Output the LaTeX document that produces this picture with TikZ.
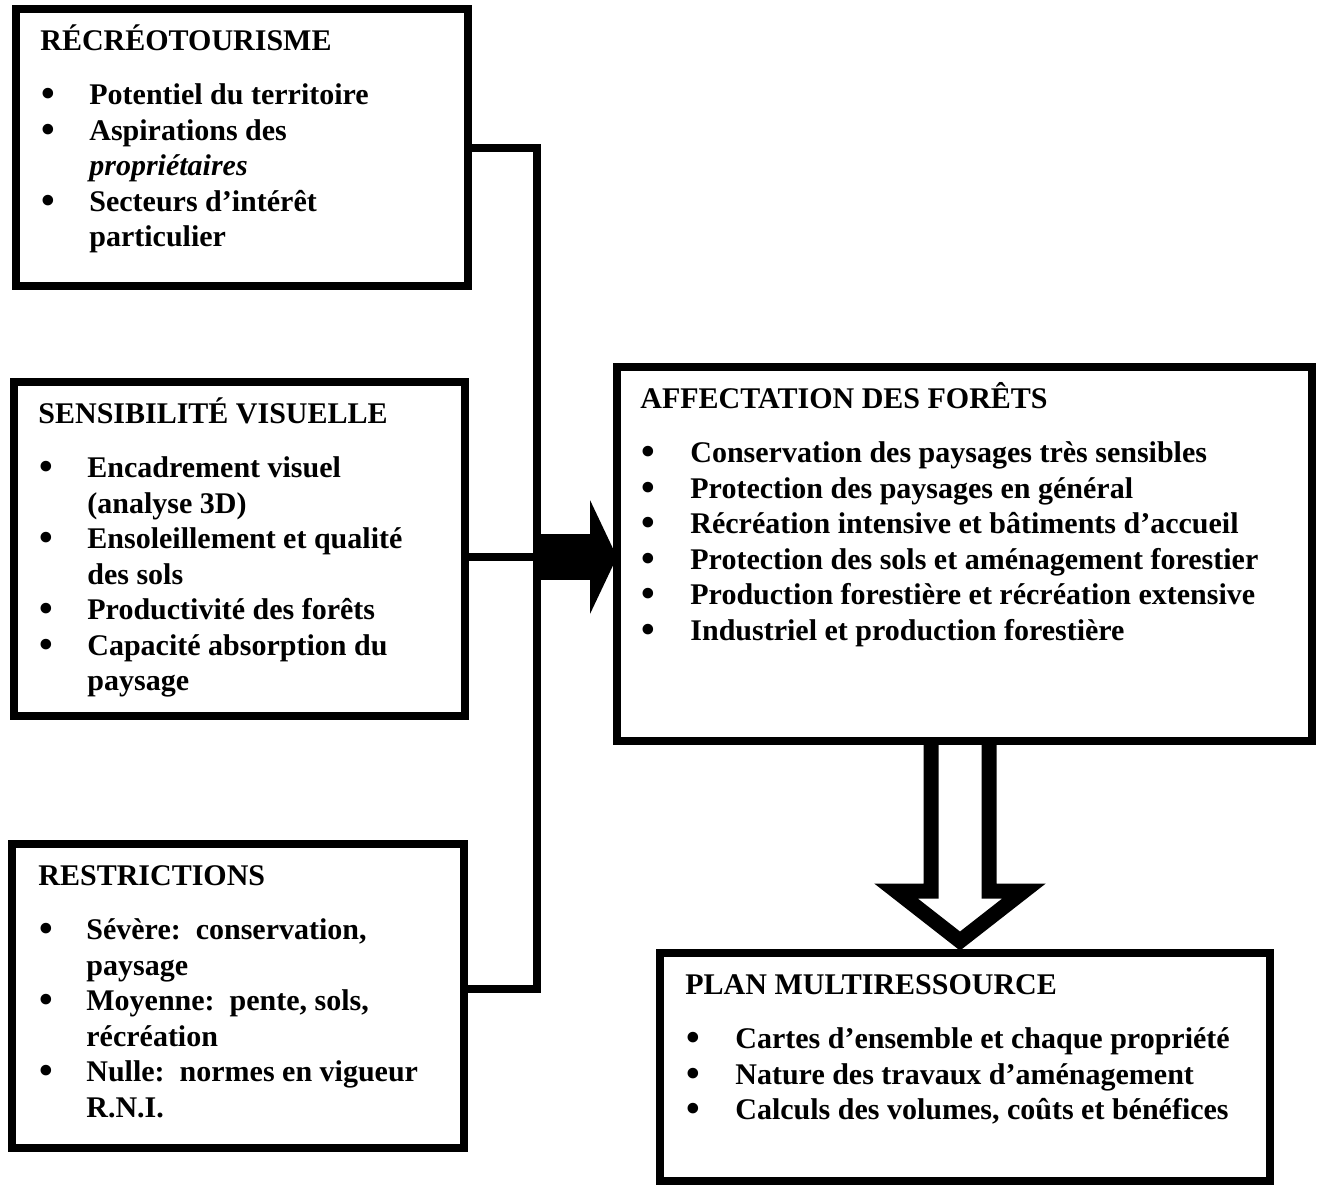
\documentclass[tikz,border=0pt]{standalone}
\usepackage{fontspec}
\setmainfont{Liberation Serif}
\usepackage{tikz}
\usetikzlibrary{calc}
\usetikzlibrary{arrows.meta}

\newcommand{\puce}{\hspace{0.5pt}\raisebox{-1.2pt}{\scalebox{1.3}{\textbullet}}}

\begin{document}
\begin{tikzpicture}[x=0.5pt, y=-0.5pt,
    boite/.style={draw, line width=4pt, inner sep=0pt, outer sep=0pt, anchor=north west},
    texte/.style={anchor=base west, inner sep=0pt, font=\fontsize{15}{17.75}\selectfont\bfseries},
    lien/.style={line width=4pt},
    fleche/.style={line width=23pt, -{Triangle[length=13.5pt 0 0, width=57pt 0 0, line width=0pt 0 0]}},
    creuse/.style={line width=7.5pt, line join=miter, fill=white}]
    \useasboundingbox (0,0) rectangle (1318,1185);
    %% the five boxes
    \node[boite, minimum width=226pt, minimum height=138.5pt] (recreo) at (16,9) {};
    \node[boite, minimum width=225.5pt, minimum height=167pt] (sensib) at (14,382) {};
    \node[boite, minimum width=226pt, minimum height=152pt] (restr) at (12,844) {};
    \node[boite, minimum width=347.5pt, minimum height=187pt] (affect) at (617,367) {};
    \node[boite, minimum width=305pt, minimum height=114pt] (plan) at (660,953) {};
    %% box contents
    \node[texte] (recreo-t) at ($(recreo.north west)+(24,41.5)$) {\begin{tabular}[t]{@{}p{24.5pt}@{}l@{}}
        \multicolumn{2}{@{}l@{}}{RÉCRÉOTOURISME}\\[9.25pt]
        \puce & Potentiel du territoire\\
        \puce & Aspirations des\\
              & \textit{propriétaires}\\
        \puce & Secteurs d’intérêt\\
              & particulier
    \end{tabular}};
    \node[texte] (sensib-t) at ($(sensib.north west)+(24,41.5)$) {\begin{tabular}[t]{@{}p{24.5pt}@{}l@{}}
        \multicolumn{2}{@{}l@{}}{SENSIBILITÉ VISUELLE}\\[9.25pt]
        \puce & Encadrement visuel\\
              & (analyse 3D)\\
        \puce & Ensoleillement et qualité\\
              & des sols\\
        \puce & Productivité des forêts\\
        \puce & Capacité absorption du\\
              & paysage
    \end{tabular}};
    \node[texte] (restr-t) at ($(restr.north west)+(26,41.5)$) {\begin{tabular}[t]{@{}p{24pt}@{}l@{}}
        \multicolumn{2}{@{}l@{}}{RESTRICTIONS}\\[9.25pt]
        \puce & Sévère:\ \ conservation,\\
              & paysage\\
        \puce & Moyenne:\ \ pente, sols,\\
              & récréation\\
        \puce & Nulle:\ \ normes en vigueur\\
              & R.N.I.
    \end{tabular}};
    \node[texte] (affect-t) at ($(affect.north west)+(23,41.5)$) {\begin{tabular}[t]{@{}p{25pt}@{}l@{}}
        \multicolumn{2}{@{}l@{}}{AFFECTATION DES FORÊTS}\\[9.25pt]
        \puce & Conservation des paysages très sensibles\\
        \puce & Protection des paysages en général\\
        \puce & Récréation intensive et bâtiments d’accueil\\
        \puce & Protection des sols et aménagement forestier\\
        \puce & Production forestière et récréation extensive\\
        \puce & Industriel et production forestière
    \end{tabular}};
    \node[texte] (plan-t) at ($(plan.north west)+(25,41.5)$) {\begin{tabular}[t]{@{}p{25pt}@{}l@{}}
        \multicolumn{2}{@{}l@{}}{PLAN MULTIRESSOURCE}\\[9.25pt]
        \puce & Cartes d’ensemble et chaque propriété\\
        \puce & Nature des travaux d’aménagement\\
        \puce & Calculs des volumes, coûts et bénéfices
    \end{tabular}};
    %% collector line on the left
    \coordinate (bus) at (537,557);
    \draw[lien] (recreo.east) -| (bus);
    \draw[lien] ([yshift=-4pt]sensib.east) -- (bus);
    \draw[lien] ([yshift=3.5pt]restr.east) -| (bus);
    %% solid arrow into affectation
    \draw[fleche] (bus) -- (bus -| affect.west);
    %% hollow arrow down to the plan
    \coordinate (haut) at ([xshift=-2.25pt]affect.south);
    \draw[creuse] ($(haut)+(-29,4)$) -- ++(0,146) -- ++(-35,0) -- ++(64,50)
        -- ++(64,-50) -- ++(-35,0) -- ++(0,-146);
\end{tikzpicture}
\end{document}
